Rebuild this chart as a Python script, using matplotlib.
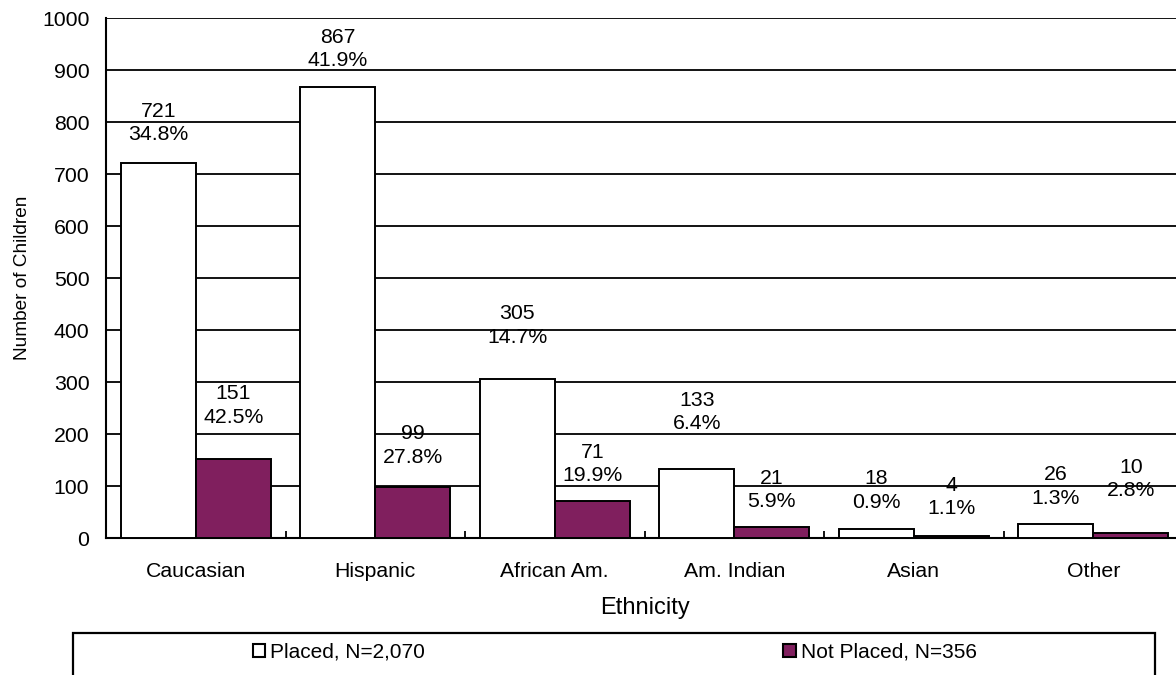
import matplotlib
matplotlib.use("Agg")
import matplotlib.pyplot as plt
from matplotlib.patches import Rectangle, Patch
import numpy as np

# ---- data ----
categories = ["Caucasian", "Hispanic", "African Am.", "Am. Indian", "Asian", "Other"]
placed = [721, 867, 305, 133, 18, 26]
placed_pct = ["34.8%", "41.9%", "14.7%", "6.4%", "0.9%", "1.3%"]
not_placed = [151, 99, 71, 21, 4, 10]
not_placed_pct = ["42.5%", "27.8%", "19.9%", "5.9%", "1.1%", "2.8%"]
series_names = ["Placed, N=2,070", "Not Placed, N=356"]
y_ticks = [0, 100, 200, 300, 400, 500, 600, 700, 800, 900, 1000]

# label lift above bar top (pixels, to centre of two-line block)
placed_lift = [40, 38, 54, 57, 38, 38]
not_placed_lift = [54, 41, 37, 37, 39, 54]

PURPLE = "#801F5E"
plt.rcParams["font.family"] = ["Liberation Sans", "DejaVu Sans"]

W, H, DPI = 1176, 675, 100
fig = plt.figure(figsize=(W / DPI, H / DPI), dpi=DPI)
ax = fig.add_axes([106 / W, 1 - 538 / H, (1183 - 106) / W, (538 - 18) / H])

x = np.arange(len(categories))
bw = 0.418
b1 = ax.bar(x - bw / 2, placed, bw, color="white", edgecolor="black", linewidth=1.4, zorder=3)
b2 = ax.bar(x + bw / 2, not_placed, bw, color=PURPLE, edgecolor="black", linewidth=1.4, zorder=3)

ax.set_xlim(-0.5, len(categories) - 0.5)
ax.set_ylim(0, 1000)
ax.set_yticks(y_ticks)
ax.set_xticks(x)
ax.set_xticklabels(categories)
ax.set_xticks(np.arange(len(categories)) + 0.5, minor=True)
ax.tick_params(axis="y", length=0, pad=12, labelsize=15.3)
ax.tick_params(axis="x", which="major", length=0, pad=17, labelsize=15.3)
ax.tick_params(axis="x", which="minor", direction="in", length=5, width=1.3)
ax.yaxis.grid(True, color="black", linewidth=1.3, zorder=2)
ax.set_axisbelow(True)
for s in ["top", "right"]:
    ax.spines[s].set_visible(False)
for s in ["left", "bottom"]:
    ax.spines[s].set_linewidth(1.5)
ax.set_ylabel("Number of Children", fontsize=13.7, labelpad=8)
ax.set_xlabel("Ethnicity", fontsize=17, labelpad=12)

def label(bars, vals, pcts, lifts):
    for r, v, p, l in zip(bars, vals, pcts, lifts):
        ax.annotate(f"{v}\n{p}", (r.get_x() + r.get_width() / 2, v),
                    xytext=(0, l * 72 / DPI), textcoords="offset points",
                    ha="center", va="center", fontsize=15.3, linespacing=1.3,
                    zorder=1, annotation_clip=False)

label(b1, placed, placed_pct, placed_lift)
label(b2, not_placed, not_placed_pct, not_placed_lift)

# legend frame
fig.patches.append(Rectangle((73 / W, -0.05), (1155 - 73) / W, 0.05 + 1 - 633 / H,
                             transform=fig.transFigure, fill=False,
                             edgecolor="black", linewidth=1.6))
handles = [Patch(facecolor="white", edgecolor="black", linewidth=1.5),
           Patch(facecolor=PURPLE, edgecolor="black", linewidth=1.5)]
centres = [339, 880]
for h, n, c in zip(handles, series_names, centres):
    fig.legend([h], [n], loc="center", bbox_to_anchor=(c / W, 1 - 652 / H),
               frameon=False, fontsize=15, handlelength=0.6, handleheight=0.6,
               handletextpad=0.25, borderpad=0)

fig.savefig("out.png", dpi=DPI)
